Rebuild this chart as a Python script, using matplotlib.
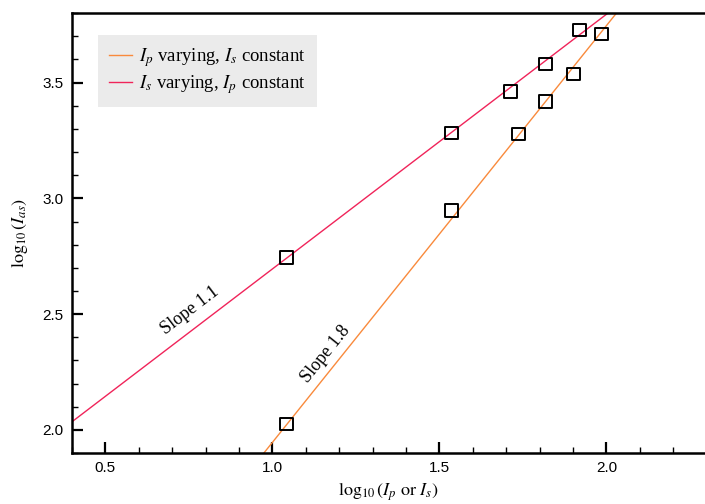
import numpy as np
import matplotlib
matplotlib.use("Agg")
import matplotlib.pyplot as plt
from matplotlib.ticker import MultipleLocator

plt.rcParams["mathtext.fontset"] = "stix"
plt.rcParams["font.family"] = ["Liberation Sans", "DejaVu Sans"]

# Measured points (log10 scale)
is_x = [1.042, 1.536, 1.713, 1.817, 1.919]
is_y = [2.746, 3.282, 3.463, 3.580, 3.727]
ip_x = [1.042, 1.536, 1.737, 1.817, 1.901, 1.985]
ip_y = [2.026, 2.949, 3.278, 3.420, 3.537, 3.710]

# Fitted power-law lines: slope, intercept
slope_is, icpt_is = 1.1, 1.595
slope_ip, icpt_ip = 1.8, 0.146

xlim = (0.4, 2.295)
ylim = (1.9, 3.8)

orange = "#f98a3c"
red = "#f0245a"
serif = ["Liberation Serif", "DejaVu Serif"]

fig = plt.figure(figsize=(7.05, 5.04), dpi=100)
ax = fig.add_axes([0.102, 0.101, 0.898, 0.873])

xs = np.array(xlim)
ax.plot(xs, slope_ip * xs + icpt_ip, color=orange, lw=1.0,
        label=r"$I_p$ varying, $I_s$ constant")
ax.plot(xs, slope_is * xs + icpt_is, color=red, lw=1.0,
        label=r"$I_s$ varying, $I_p$ constant")

# hollow square markers so the fitted lines show through
ax.scatter(is_x + ip_x, is_y + ip_y, marker="s", s=85, facecolor="none",
           edgecolor="black", linewidth=1.4, zorder=4)

ax.set_xlim(*xlim)
ax.set_ylim(*ylim)

ax.xaxis.set_major_locator(MultipleLocator(0.5))
ax.xaxis.set_minor_locator(MultipleLocator(0.1))
ax.yaxis.set_major_locator(MultipleLocator(0.5))
ax.yaxis.set_minor_locator(MultipleLocator(0.1))
ax.tick_params(which="major", direction="in", length=8, width=1.6,
               labelsize=11, pad=6)
ax.tick_params(which="minor", direction="in", length=4, width=1.0)
ax.tick_params(top=False, right=False)

for side in ("left", "bottom", "top"):
    ax.spines[side].set_linewidth(1.8)
ax.spines["right"].set_visible(False)

ax.set_xlabel(r"$\mathrm{log}_{10}\,(I_p\ \mathrm{or}\ I_s)$", fontsize=13,
              labelpad=4)
ax.set_ylabel(r"$\mathrm{log}_{10}\,(I_{as})$", fontsize=13, labelpad=9)

# slope annotations, rotated along their lines in display space
def line_angle(slope):
    p1 = ax.transData.transform((1.0, 1.0 * slope))
    p2 = ax.transData.transform((2.0, 2.0 * slope))
    return np.degrees(np.arctan2(p2[1] - p1[1], p2[0] - p1[0]))

fig.canvas.draw()
ax.text(0.77, slope_is * 0.77 + icpt_is + 0.045, "Slope 1.1",
        rotation=line_angle(slope_is), rotation_mode="anchor",
        ha="center", va="bottom", fontsize=13, family=serif)
ax.text(1.18, slope_ip * 1.18 + icpt_ip + 0.035, "Slope 1.8",
        rotation=line_angle(slope_ip), rotation_mode="anchor",
        ha="center", va="bottom", fontsize=13, family=serif)

leg = ax.legend(loc="upper left", bbox_to_anchor=(0.041, 0.95),
                borderaxespad=0.0,
                prop={"family": serif, "size": 13.5}, frameon=True,
                fancybox=False, handlelength=1.2, handletextpad=0.4,
                borderpad=0.6, labelspacing=0.2)
leg.get_frame().set_facecolor("#ebebeb")
leg.get_frame().set_edgecolor("none")
leg.get_frame().set_alpha(1.0)

fig.savefig("out.png", dpi=100)
